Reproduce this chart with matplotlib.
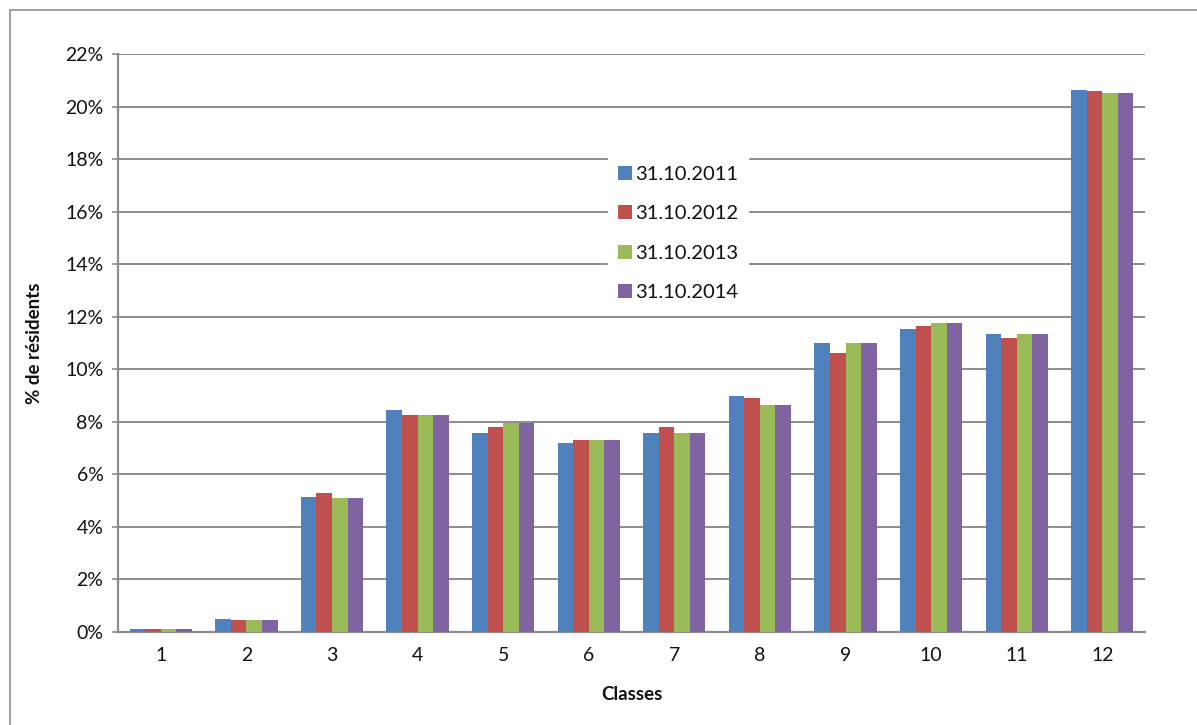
import matplotlib

matplotlib.use("Agg")
import matplotlib.pyplot as plt
import numpy as np
from matplotlib.lines import Line2D
from matplotlib.ticker import FuncFormatter, MultipleLocator

# Share of residents per class (%), one list per reference date
classes = ["1", "2", "3", "4", "5", "6", "7", "8", "9", "10", "11", "12"]
dates = ["31.10.2011", "31.10.2012", "31.10.2013", "31.10.2014"]
pct_2011 = [0.10, 0.50, 5.15, 8.45, 7.56, 7.18, 7.56, 8.97, 11.00, 11.53, 11.34, 20.63]
pct_2012 = [0.10, 0.45, 5.30, 8.26, 7.81, 7.31, 7.81, 8.90, 10.62, 11.65, 11.19, 20.58]
pct_2013 = [0.10, 0.45, 5.10, 8.26, 7.94, 7.31, 7.56, 8.64, 11.00, 11.76, 11.34, 20.52]
pct_2014 = [0.10, 0.45, 5.10, 8.26, 7.94, 7.31, 7.56, 8.64, 11.00, 11.76, 11.34, 20.52]

SERIES = [pct_2011, pct_2012, pct_2013, pct_2014]
COLORS = ["#4F81BD", "#C0504D", "#9BBB59", "#8064A2"]
GRID = "#8C8C8C"
FG = "#111111"

plt.rcParams["font.family"] = ["Lato", "DejaVu Sans"]

fig = plt.figure(figsize=(11.97, 7.25), dpi=100, facecolor="white")
ax = fig.add_axes([0.0986, 0.1283, 0.858, 0.7972])

x = np.arange(1, len(classes) + 1)
width = 0.182
for i, (vals, col) in enumerate(zip(SERIES, COLORS)):
    ax.bar(x + (i - 1.5) * width, vals, width=width, color=col, label=dates[i], zorder=3)

ax.set_xlim(0.5, 12.5)
ax.set_ylim(0, 22)
ax.yaxis.set_major_locator(MultipleLocator(2))
ax.yaxis.set_major_formatter(FuncFormatter(lambda v, _: f"{v:.0f}%"))
ax.set_xticks(x)
ax.set_xticklabels(classes)

ax.grid(axis="y", color=GRID, linewidth=1.4, zorder=0)
for side in ("top", "right"):
    ax.spines[side].set_visible(False)
for side in ("left", "bottom"):
    ax.spines[side].set_color(GRID)
    ax.spines[side].set_linewidth(1.6)
ax.tick_params(axis="y", direction="out", length=4.5, width=1.2, color=GRID,
               labelsize=14, labelcolor=FG, pad=6)
ax.tick_params(axis="x", length=0, labelsize=14, labelcolor=FG, pad=11)

ax.set_xlabel("Classes", fontsize=13.5, fontweight="bold", color=FG, labelpad=16)
ax.set_ylabel("% de résidents", fontsize=13.5, fontweight="bold", color=FG, labelpad=16)

leg = fig.legend(
    loc="upper left",
    bbox_to_anchor=(598 / 1197, 1 - 146 / 725),
    frameon=True,
    fancybox=False,
    edgecolor="white",
    facecolor="white",
    framealpha=1,
    fontsize=14.5,
    handlelength=0.7,
    handleheight=0.7,
    handletextpad=0.15,
    labelspacing=1.1,
    borderpad=0.5,
)
leg.set_zorder(5)
for t in leg.get_texts():
    t.set_color(FG)

# chart area frame (top and left edges)
fig.add_artist(Line2D([10 / 1197, 1.0], [1 - 10 / 725] * 2, color="#A0A0A0", linewidth=1.4))
fig.add_artist(Line2D([10 / 1197] * 2, [0.0, 1 - 10 / 725], color="#A0A0A0", linewidth=1.4))

fig.savefig("out.png", dpi=100, facecolor="white")
